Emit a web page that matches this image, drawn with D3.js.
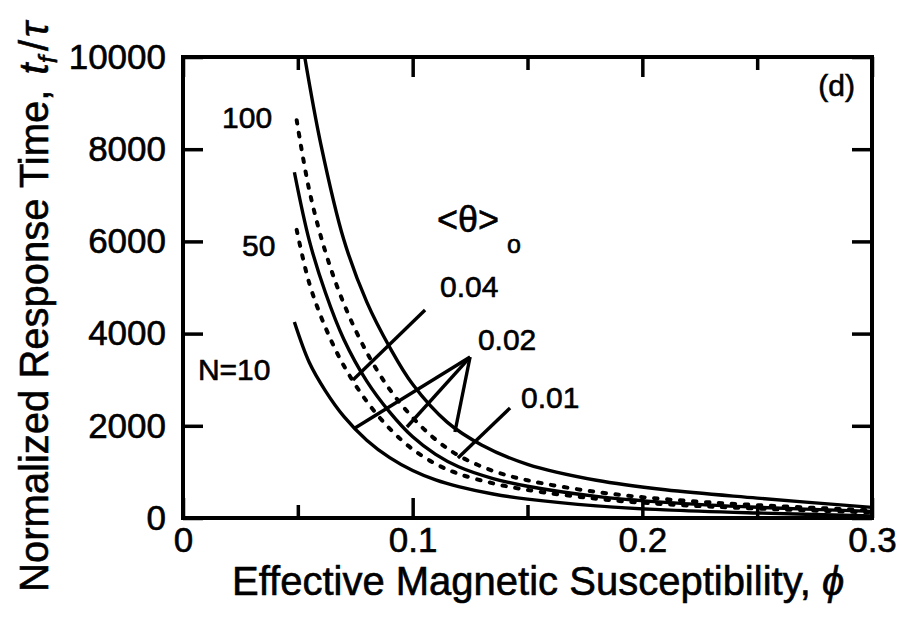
<!DOCTYPE html>
<html>
<head>
<meta charset="utf-8">
<script src="https://cdnjs.cloudflare.com/ajax/libs/d3/7.8.5/d3.min.js"></script>
<style>
body { margin: 0; background: #fff; }
svg { font-family: "Liberation Sans", Arial, sans-serif; }
svg text { stroke: #000; stroke-width: 0.6; }
.axis text { font-size: 35px; fill: #000; }
.axis line { stroke: #000; stroke-width: 3.5; }
.axis path { display: none; }
.curve { fill: none; stroke: #000; stroke-width: 3.4; }
.dotted { stroke-dasharray: 3.5 9.5; stroke-linecap: round; stroke-width: 4; }
.pointer { stroke: #000; stroke-width: 3.4; }
.note { font-size: 30px; fill: #000; }
.title { font-size: 40px; fill: #000; }
</style>
</head>
<body>
<script>
var xMajor = [0, 0.1, 0.2, 0.3];
var xMinor = [0.05, 0.15, 0.25];
var yMajor = [0, 2000, 4000, 6000, 8000, 10000];

// curves, [phi, t_f/tau]
var solidTop = [[0.053,10000],[0.06,8111],[0.07,6041],[0.08,4688],[0.09,3704],[0.1,2900],
  [0.115,2080],[0.13,1586],[0.15,1164],[0.18,818],[0.21,612],[0.25,432],[0.3,230]];
var dottedUpper = [[0.0495,8630],[0.055,7107],[0.062,5775],[0.07,4653],[0.08,3594],[0.09,2790],
  [0.1,2180],[0.11,1702],[0.12,1354],[0.135,1021],[0.15,818],[0.18,565],[0.21,408],[0.25,280],[0.3,167]];
var solidMiddle = [[0.0485,7500],[0.055,6017],[0.062,4891],[0.07,3878],[0.08,2969],[0.09,2296],
  [0.1,1760],[0.11,1380],[0.12,1111],[0.135,856],[0.15,689],[0.18,469],[0.21,340],[0.25,232],[0.3,144]];
var dottedLower = [[0.0495,6250],[0.055,5091],[0.062,4136],[0.07,3306],[0.08,2531],[0.09,1938],
  [0.1,1490],[0.11,1174],[0.12,958],[0.135,752],[0.15,609],[0.18,417],[0.21,299],[0.25,205],[0.3,122]];
var solidBottom = [[0.0485,4250],[0.055,3372],[0.062,2758],[0.07,2204],[0.08,1688],[0.09,1309],
  [0.1,1030],[0.11,826],[0.12,681],[0.135,521],[0.15,409],[0.18,262],[0.21,177],[0.25,109],[0.3,45]];

// pointer lines for the <theta>o labels
var pointer004 = [[0.1054,4512],[0.074,2994]];
var apex002 = [0.125,3492];
var ends002 = [[0.0749,1952],[0.0975,1974],[0.1184,1865]];
var pointer001 = [[0.1424,2386],[0.1197,1302]];

var margin = {top: 57, right: 31, bottom: 108, left: 183},
    width = 903 - margin.left - margin.right,
    height = 626 - margin.top - margin.bottom;

var x = d3.scaleLinear().domain([0, 0.3]).range([0, width]);
var y = d3.scaleLinear().domain([0, 10000]).range([height, 0]);

var svg = d3.select("body").append("svg")
    .attr("width", 903)
    .attr("height", 626)
  .append("g")
    .attr("transform", "translate(" + margin.left + "," + margin.top + ")");

svg.append("defs").append("clipPath")
    .attr("id", "plot")
  .append("rect")
    .attr("width", width)
    .attr("height", height);

// ticks point inward on all four sides
svg.append("g")
    .attr("class", "axis")
    .attr("transform", "translate(0," + height + ")")
    .call(d3.axisBottom(x).tickValues(xMajor).tickSize(-20).tickPadding(9)
      .tickFormat(function(d) { return d === 0 ? "0" : d3.format(".1f")(d); }));
svg.append("g")
    .attr("class", "axis")
    .attr("transform", "translate(0," + height + ")")
    .call(d3.axisBottom(x).tickValues(xMinor).tickSize(-13).tickFormat(""));
svg.append("g")
    .attr("class", "axis")
    .call(d3.axisTop(x).tickValues(xMajor).tickSize(-20).tickFormat(""));
svg.append("g")
    .attr("class", "axis")
    .call(d3.axisTop(x).tickValues(xMinor).tickSize(-13).tickFormat(""));
svg.append("g")
    .attr("class", "axis")
    .call(d3.axisLeft(y).tickValues(yMajor).tickSize(-20).tickPadding(17).tickFormat(d3.format("d")));
svg.append("g")
    .attr("class", "axis")
    .attr("transform", "translate(" + width + ",0)")
    .call(d3.axisRight(y).tickValues(yMajor).tickSize(-20).tickFormat(""));

svg.append("rect")
    .attr("width", width)
    .attr("height", height)
    .style("fill", "none")
    .style("stroke", "#000")
    .style("stroke-width", 4);

var line = d3.line()
    .x(function(d) { return x(d[0]); })
    .y(function(d) { return y(d[1]); })
    .curve(d3.curveCatmullRom.alpha(0.5));

var g = svg.append("g").attr("clip-path", "url(#plot)");

[solidTop, solidMiddle, solidBottom].forEach(function(c) {
  g.append("path").datum(c).attr("class", "curve").attr("d", line);
});
[dottedUpper, dottedLower].forEach(function(c) {
  g.append("path").datum(c).attr("class", "curve dotted").attr("d", line);
});

var segs = [pointer004, pointer001].concat(ends002.map(function(e) { return [apex002, e]; }));
svg.selectAll(".pointer")
    .data(segs)
  .enter().append("line")
    .attr("class", "pointer")
    .attr("x1", function(d) { return x(d[0][0]); })
    .attr("y1", function(d) { return y(d[0][1]); })
    .attr("x2", function(d) { return x(d[1][0]); })
    .attr("y2", function(d) { return y(d[1][1]); });

function note(txt, px, py, size) {
  return svg.append("text")
      .attr("class", "note")
      .attr("x", x(px))
      .attr("y", y(py))
      .style("font-size", size ? size + "px" : null)
      .text(txt);
}
note("100", 0.017, 8460);
note("50", 0.0257, 5683);
note("N=10", 0.0065, 2993);
note("<θ>", 0.1106, 6204, 36);
note("o", 0.1411, 5748, 25);
note("0.04", 0.1119, 4794);
note("0.02", 0.1284, 3644);
note("0.01", 0.1472, 2386);
note("(d)", 0.2926, 9154).style("text-anchor", "end");

// axis titles
var xt = svg.append("text")
    .attr("class", "title")
    .attr("x", 232 - margin.left)
    .attr("y", 595 - margin.top);
xt.append("tspan").text("Effective Magnetic Susceptibility, ");
xt.append("tspan").style("font-style", "italic").text("ϕ");

var yt = svg.append("text")
    .attr("class", "title")
    .attr("transform", "translate(" + (48 - margin.left) + "," + (592 - margin.top) + ") rotate(-90)");
yt.append("tspan").text("Normalized Response Time, ");
yt.append("tspan").style("font-style", "italic").attr("dx", 4).text("t");
yt.append("tspan").style("font-style", "italic").style("font-size", "26px").attr("dy", 9).text("f");
yt.append("tspan").attr("dy", -9).attr("dx", 5).text("/");
yt.append("tspan").style("font-style", "italic").attr("dx", 3).text("τ");
</script>
</body>
</html>
